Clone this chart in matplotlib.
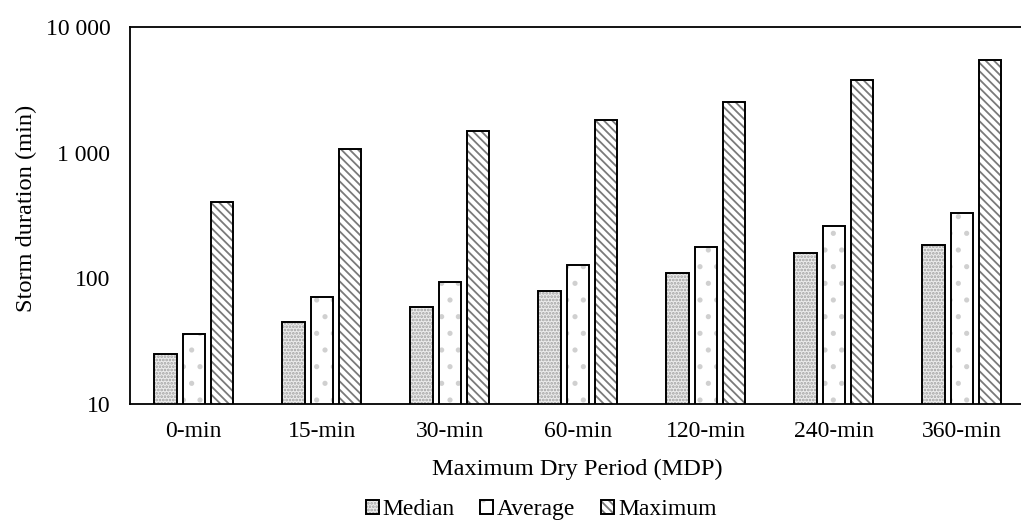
import matplotlib
matplotlib.use("Agg")
import matplotlib.pyplot as plt
import numpy as np
from matplotlib.ticker import FixedLocator, FuncFormatter, NullLocator
from matplotlib.legend_handler import HandlerTuple

plt.rcParams["font.family"] = ["Liberation Serif", "DejaVu Serif"]
plt.rcParams["hatch.linewidth"] = 1.3

categories = ["0-min", "15-min", "30-min", "60-min", "120-min", "240-min", "360-min"]
median = [25, 45, 59, 79, 110, 159, 183]
average = [36, 71, 93, 128, 178, 262, 333]
maximum = [407, 1070, 1495, 1820, 2530, 3785, 5495]

series = [
    ("Median", median, "#ececec", "#a0a0a0", "....."),
    ("Average", average, "white", "#d0d0d0", "."),
    ("Maximum", maximum, "white", "#7a7a7a", "\\\\\\\\"),
]

fig = plt.figure(figsize=(10.21, 5.20), dpi=100)
ax = fig.add_axes([0.1271, 0.2231, 0.8776, 0.725])

x = np.arange(len(categories))
pitch, width = 0.22, 0.176
handles = []
for i, (name, vals, face, hcol, hatch) in enumerate(series):
    pos = x + (i - 1) * pitch
    # hatch layer first, then a clean black outline on top
    fill = ax.bar(pos, vals, width, bottom=0, color=face, edgecolor=hcol,
                  hatch=hatch, linewidth=0, zorder=2)
    edge = ax.bar(pos, vals, width, bottom=0, facecolor="none",
                  edgecolor="black", linewidth=1.4, zorder=3)
    handles.append((fill.patches[0], edge.patches[0]))

ax.set_yscale("log")
ax.set_ylim(10, 10000)
ax.set_xlim(-0.5, len(categories) - 0.5)
ax.yaxis.set_major_locator(FixedLocator([10, 100, 1000, 10000]))
ax.yaxis.set_minor_locator(NullLocator())
ax.yaxis.set_major_formatter(FuncFormatter(lambda v, _: f"{int(round(v)):,}".replace(",", " ")))
ax.set_xticks(x)
ax.set_xticklabels(categories)
ax.tick_params(axis="both", length=0, labelsize=17)
ax.tick_params(axis="y", pad=14)
ax.tick_params(axis="x", pad=12)

for side in ("left", "bottom", "top"):
    ax.spines[side].set_linewidth(1.3)
    ax.spines[side].set_color("black")
ax.spines["right"].set_visible(False)

ax.set_xlabel("Maximum Dry Period (MDP)", fontsize=17.6, labelpad=12)
ax.set_ylabel("Storm duration (min)", fontsize=17.6, labelpad=8)
ax.yaxis.set_label_coords(-0.103, 0.52)

fig.legend(handles, [s[0] for s in series], handler_map={tuple: HandlerTuple(ndivide=1)},
           loc="center", bbox_to_anchor=(0.53, 0.02), ncol=3, frameon=False,
           fontsize=17, handlelength=0.55, handleheight=0.55,
           handletextpad=0.15, columnspacing=1.1)

fig.savefig("out.png", dpi=100)
